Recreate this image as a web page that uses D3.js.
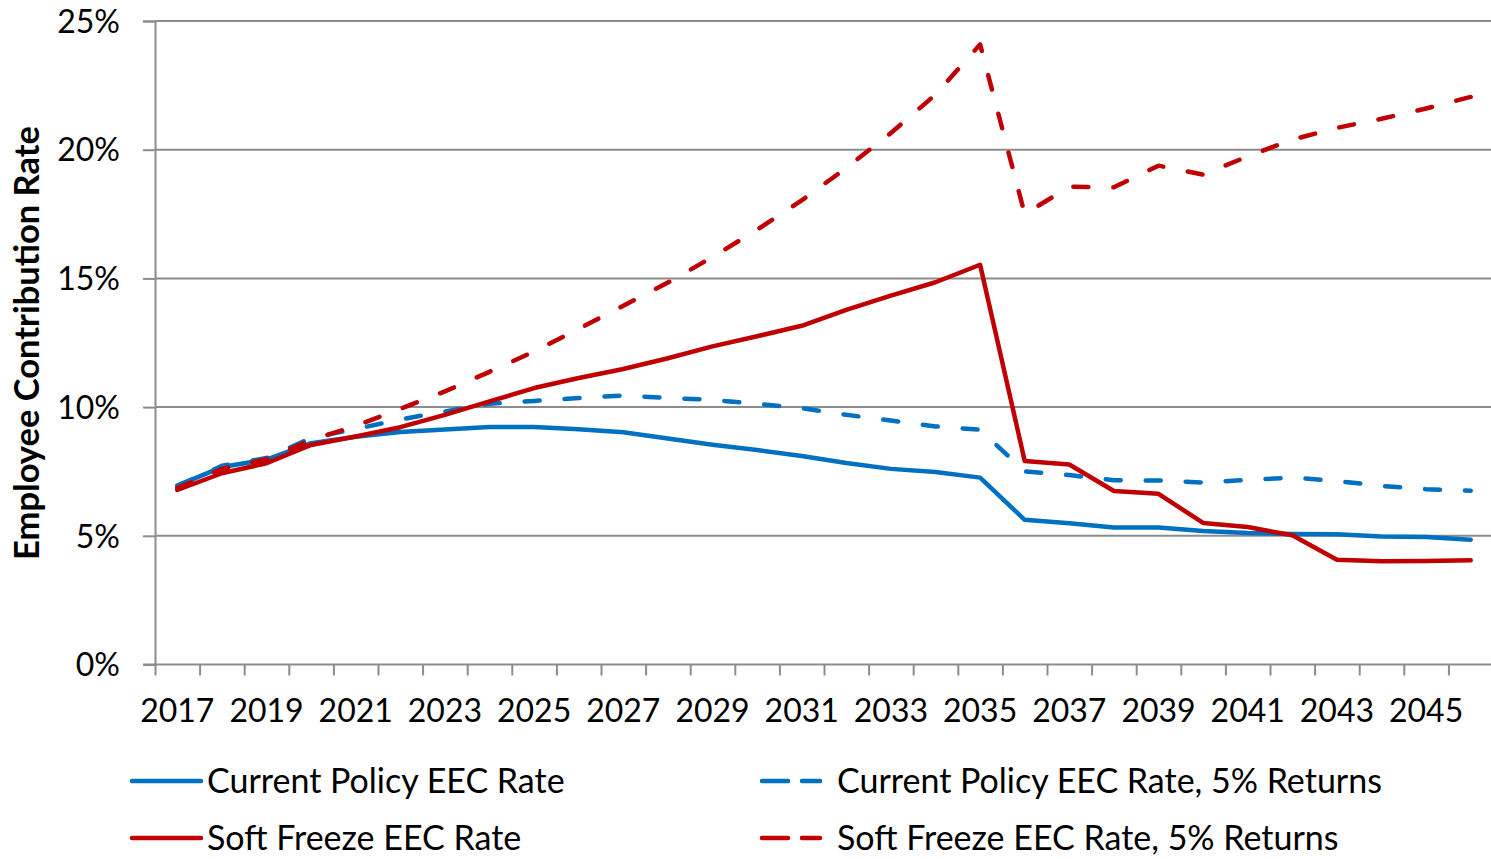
<!DOCTYPE html>
<html>
<head>
<meta charset="utf-8">
<script src="https://cdn.jsdelivr.net/npm/d3@7"></script>
<style>
  html, body { margin: 0; padding: 0; background: #fff; }
  svg { display: block; }
  text { font-family: Lato, "Open Sans", sans-serif; fill: #000; }
</style>
</head>
<body>
<svg id="chart" width="1491" height="859"></svg>
<script>
// ---- data ----
const years = [2017, 2018, 2019, 2020, 2021, 2022, 2023, 2024, 2025, 2026,
               2027, 2028, 2029, 2030, 2031, 2032, 2033, 2034, 2035, 2036,
               2037, 2038, 2039, 2040, 2041, 2042, 2043, 2044, 2045, 2046];

const currentPolicy = [6.95, 7.67, 7.96, 8.6, 8.85, 9.03, 9.13, 9.23, 9.23, 9.14,
                       9.02, 8.78, 8.54, 8.33, 8.1, 7.83, 7.6, 7.48, 7.26, 5.62,
                       5.49, 5.32, 5.32, 5.19, 5.11, 5.07, 5.06, 4.97, 4.95, 4.85];

const currentPolicy5 = [6.94, 7.72, 8.02, 8.8, 9.15, 9.52, 9.83, 10.13, 10.24, 10.35,
                        10.45, 10.35, 10.28, 10.13, 9.96, 9.7, 9.48, 9.25, 9.12, 7.5,
                        7.36, 7.16, 7.15, 7.07, 7.17, 7.26, 7.13, 6.94, 6.81, 6.75];

const softFreeze = [6.78, 7.43, 7.82, 8.53, 8.86, 9.22, 9.7, 10.22, 10.74, 11.13,
                    11.48, 11.9, 12.36, 12.75, 13.16, 13.78, 14.33, 14.85, 15.53, 7.91,
                    7.77, 6.74, 6.63, 5.5, 5.34, 5.02, 4.07, 4.01, 4.02, 4.05];

const softFreeze5 = [6.85, 7.6, 7.98, 8.72, 9.27, 9.93, 10.61, 11.37, 12.16, 13.04,
                     13.94, 14.84, 15.83, 16.89, 18.03, 19.29, 20.65, 22.14, 24.09, 17.5,
                     18.56, 18.54, 19.38, 19.03, 19.74, 20.39, 20.85, 21.2, 21.6, 22.05];

const yTicks = [0, 5, 10, 15, 20, 25];
const yTitle = "Employee Contribution Rate";

const seriesNames = ["Current Policy EEC Rate", "Current Policy EEC Rate, 5% Returns",
                     "Soft Freeze EEC Rate", "Soft Freeze EEC Rate, 5% Returns"];

// ---- styles / layout ----
const BLUE = "#0070C0", RED = "#C00000", GRID = "#8C8C8C";
const series = [
  { name: seriesNames[0], values: currentPolicy,  color: BLUE, dashed: false },
  { name: seriesNames[1], values: currentPolicy5, color: BLUE, dashed: true },
  { name: seriesNames[2], values: softFreeze,     color: RED,  dashed: false },
  { name: seriesNames[3], values: softFreeze5,    color: RED,  dashed: true }
];

const svg = d3.select("#chart");
const plotLeft = 155, plotRight = 1493, plotTop = 21, plotBottom = 664.5;

const x = d3.scaleBand().domain(years).range([plotLeft, plotRight]).padding(0);
const xb = d3.scaleLinear().domain([0, years.length]).range([plotLeft, plotRight]);
const y = d3.scaleLinear().domain([0, 25]).range([plotBottom, plotTop]);
const cx = d => x(d) + x.bandwidth() / 2;

// grid lines
svg.append("g").selectAll("line").data(yTicks.filter(t => t > 0)).join("line")
  .attr("x1", plotLeft).attr("x2", 1491)
  .attr("y1", d => y(d)).attr("y2", d => y(d))
  .attr("stroke", GRID).attr("stroke-width", 2);

// y axis
const yAxis = svg.append("g").attr("transform", `translate(${plotLeft},0)`)
  .call(d3.axisLeft(y).tickValues(yTicks).tickSize(12).tickPadding(23)
        .tickFormat(d => d + "%"));
yAxis.select(".domain").attr("stroke", GRID).attr("stroke-width", 2);
yAxis.selectAll(".tick line").attr("stroke", GRID).attr("stroke-width", 2);
yAxis.selectAll(".tick text").style("font-size", "32px").attr("dy", "0.35em");

// x axis: ticks at category boundaries
const xAxisTicks = svg.append("g").attr("transform", `translate(0,${plotBottom})`)
  .call(d3.axisBottom(xb).tickValues(d3.range(0, years.length + 1)).tickSize(11).tickFormat(""));
xAxisTicks.select(".domain").remove();
xAxisTicks.selectAll(".tick line").attr("stroke", GRID).attr("stroke-width", 2);
svg.append("line").attr("x1", plotLeft - 12).attr("x2", 1491)
  .attr("y1", plotBottom).attr("y2", plotBottom)
  .attr("stroke", GRID).attr("stroke-width", 2);

// x labels
const xAxisLabels = svg.append("g").attr("transform", `translate(0,${plotBottom})`)
  .call(d3.axisBottom(x).tickSize(0).tickPadding(35)
        .tickFormat((d, i) => i % 2 === 0 ? String(d) : ""));
xAxisLabels.select(".domain").remove();
xAxisLabels.selectAll(".tick text").style("font-size", "32px");

// y title
svg.append("text")
  .attr("transform", `translate(39,343) rotate(-90)`)
  .attr("text-anchor", "middle")
  .style("font-size", "34.5px").style("font-weight", "bold")
  .text(yTitle);

// lines
const line = d3.line().x((d, i) => cx(years[i])).y(d => y(d));
svg.append("g").selectAll("path").data(series).join("path")
  .attr("d", d => line(d.values))
  .attr("fill", "none")
  .attr("stroke", d => d.color)
  .attr("stroke-width", 4.5)
  .attr("stroke-linejoin", "round")
  .attr("stroke-linecap", "round")
  .attr("stroke-dasharray", d => d.dashed ? "15,25" : null);

// legend
const legendPos = [
  { lx: 132, ly: 781 }, { lx: 762, ly: 781 },
  { lx: 132, ly: 838 }, { lx: 762, ly: 838 }
];
const lg = svg.append("g").selectAll("g").data(series).join("g")
  .attr("transform", (d, i) => `translate(${legendPos[i].lx},${legendPos[i].ly})`);
lg.append("line")
  .attr("x1", 0).attr("x2", d => d.dashed ? 58 : 69)
  .attr("y1", 0).attr("y2", 0)
  .attr("stroke", d => d.color).attr("stroke-width", 4.5)
  .attr("stroke-linecap", "round")
  .attr("stroke-dasharray", d => d.dashed ? "26,14" : null);
lg.append("text")
  .attr("x", 75).attr("y", 0).attr("dy", "0.35em")
  .style("font-size", "34px")
  .text(d => d.name);
</script>
</body>
</html>
